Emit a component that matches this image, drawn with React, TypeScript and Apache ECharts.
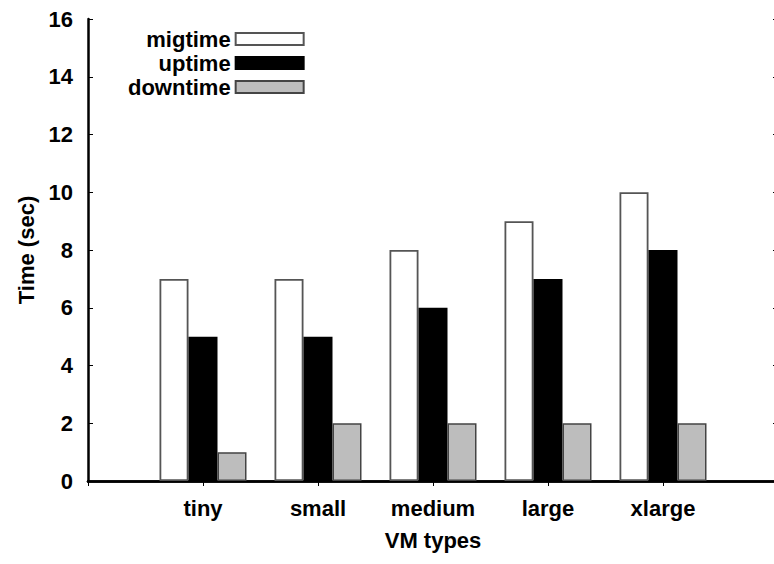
import React, { useEffect, useRef } from "react";
import * as echarts from "echarts";

const categories = ["", "tiny", "small", "medium", "large", "xlarge", ""];
const migtime = [null, 7, 7, 8, 9, 10, null];
const uptime = [null, 5, 5, 6, 7, 8, null];
const downtime = [null, 1, 2, 2, 2, 2, null];
const yTicks = { min: 0, max: 16, interval: 2 };

const FONT = "'Liberation Sans', Arial, Helvetica, sans-serif";

export default function App() {
  const ref = useRef<HTMLDivElement>(null);
  useEffect(() => {
    if (!ref.current) return;
    const chart = echarts.init(ref.current, null, { renderer: "svg" });
    const textStyle = { fontFamily: FONT, fontWeight: "bold" as const, fontSize: 22, color: "#000" };
    chart.setOption({
      animation: false,
      backgroundColor: "#fff",
      textStyle: { fontFamily: FONT },
      grid: { left: 88, width: 690, top: 19, height: 462, show: false, outerBoundsMode: "none", containLabel: false },
      legend: {
        orient: "vertical",
        left: 123,
        top: 23,
        align: "right",
        icon: "rect",
        itemWidth: 68,
        itemHeight: 12,
        itemGap: 2,
        textStyle: { ...textStyle, lineHeight: 22, padding: 0 },
        data: ["migtime", "uptime", "downtime"],
      },
      xAxis: [
        {
          type: "category",
          data: categories,
          boundaryGap: false,
          position: "bottom",
          axisLine: { show: true, lineStyle: { color: "#000", width: 2.5 } },
          axisTick: { show: true, inside: true, length: 5, lineStyle: { color: "#000" } },
          axisLabel: { ...textStyle, margin: 16, interval: 0 },
          name: "VM types",
          nameLocation: "middle",
          nameGap: 48,
          nameTextStyle: textStyle,
          splitLine: { show: false },
        },
        {
          type: "category",
          data: categories,
          boundaryGap: false,
          position: "top",
          axisLine: { show: true, lineStyle: { color: "#000", width: 2.5 } },
          axisTick: { show: true, inside: true, length: 5, lineStyle: { color: "#000" } },
          axisLabel: { show: false },
          splitLine: { show: false },
        },
      ],
      yAxis: [
        {
          type: "value",
          min: yTicks.min,
          max: yTicks.max,
          interval: yTicks.interval,
          position: "left",
          axisLine: { show: true, lineStyle: { color: "#000", width: 2.5 } },
          axisTick: { show: true, inside: true, length: 5, lineStyle: { color: "#000" } },
          axisLabel: { ...textStyle, margin: 15 },
          splitLine: { show: false },
          name: "Time (sec)",
          nameLocation: "middle",
          nameRotate: 90,
          nameGap: 45,
          nameTextStyle: textStyle,
        },
        {
          type: "value",
          min: yTicks.min,
          max: yTicks.max,
          interval: yTicks.interval,
          position: "right",
          axisLine: { show: true, lineStyle: { color: "#000", width: 2.5 } },
          axisTick: { show: true, inside: true, length: 5, lineStyle: { color: "#000" } },
          axisLabel: { show: false },
          splitLine: { show: false },
        },
      ],
      series: [
        {
          name: "migtime",
          type: "bar",
          data: migtime,
          barWidth: 29,
          barGap: "0%",
          itemStyle: { color: "#ffffff", borderColor: "#555", borderWidth: 1.8 },
        },
        {
          name: "uptime",
          type: "bar",
          data: uptime,
          barWidth: 29,
          barGap: "0%",
          itemStyle: { color: "#000000", borderColor: "#000", borderWidth: 1.5 },
        },
        {
          name: "downtime",
          type: "bar",
          data: downtime,
          barWidth: 29,
          barGap: "0%",
          itemStyle: { color: "#bdbdbd", borderColor: "#444", borderWidth: 1.5 },
        },
      ],
    });
    return () => chart.dispose();
  }, []);
  return (
    <div
      ref={ref}
      style={{ position: "fixed", left: 0, top: 0, width: 774, height: 564, background: "#fff" }}
    />
  );
}
